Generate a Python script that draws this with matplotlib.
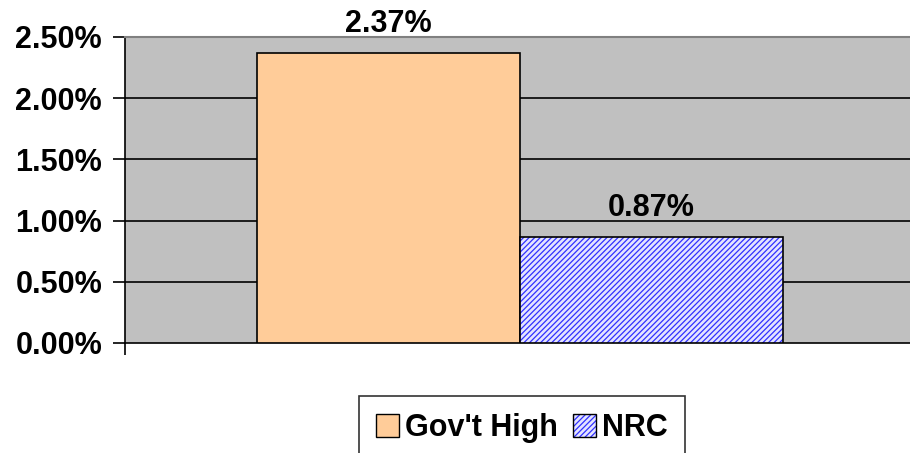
import matplotlib
matplotlib.use('Agg')
from matplotlib import pyplot as plt
from matplotlib.patches import Patch
from matplotlib.legend_handler import HandlerTuple
from matplotlib.ticker import FuncFormatter

series = ["Gov't High", "NRC"]
values = [2.37, 0.87]          # percent
yticks = [0.0, 0.5, 1.0, 1.5, 2.0, 2.5]

plt.rcParams['font.family'] = ['Liberation Sans', 'DejaVu Sans']
plt.rcParams['font.weight'] = 'bold'
plt.rcParams['hatch.linewidth'] = 0.9

fig = plt.figure(figsize=(9.1, 4.53), dpi=100)
ax = fig.add_axes([125 / 910, 1 - 343 / 453, 1 - 125 / 910, (343 - 37) / 453])
ax.set_facecolor('#C0C0C0')

width = 0.335
xpos = [0.003 - width / 2, 0.003 + width / 2]

# grid
for y in yticks[1:-1]:
    ax.axhline(y, color='black', lw=1.2, zorder=1)

# bar 1: plain peach
ax.bar(xpos[0], values[0], width=width, color='#FFCC99',
       edgecolor='black', lw=1.2, zorder=3)
# bar 2: blue hatch, outline drawn separately
ax.bar(xpos[1], values[1], width=width, color='#E4E4FF',
       edgecolor='#3030FF', hatch='//////', lw=0, zorder=3)
ax.bar(xpos[1], values[1], width=width, fill=False,
       edgecolor='black', lw=1.2, zorder=4)

for x, v in zip(xpos, values):
    ax.annotate(f'{v:.2f}%', (x, v), xytext=(0, 10), textcoords='offset points',
                ha='center', va='bottom', fontsize=22, fontweight='bold')

ax.set_xlim(-0.5, 0.5)
ax.set_ylim(0, 2.5)
ax.set_yticks(yticks)
ax.yaxis.set_major_formatter(FuncFormatter(lambda v, p: f'{v:.2f}%'))
ax.set_xticks([-0.5])
ax.set_xticklabels([])
ax.tick_params(axis='both', direction='out', length=8.5, width=1.2,
               color='black', labelsize=22, pad=8)

ax.spines['left'].set_color('black')
ax.spines['left'].set_linewidth(1.2)
ax.spines['bottom'].set_color('black')
ax.spines['bottom'].set_linewidth(1.2)
ax.spines['top'].set_color('#808080')
ax.spines['top'].set_linewidth(1.5)
ax.spines['right'].set_visible(False)

h_gov = Patch(facecolor='#FFCC99', edgecolor='black', lw=1)
h_nrc = (Patch(facecolor='#E4E4FF', edgecolor='#3030FF', hatch='//////', lw=0),
         Patch(fill=False, edgecolor='black', lw=1))
leg = fig.legend([h_gov, h_nrc], series, loc='center',
                 bbox_to_anchor=(522 / 910, 1 - 428 / 453),
                 handler_map={tuple: HandlerTuple(ndivide=1, pad=0)},
                 ncol=2, frameon=True, fancybox=False, shadow=False,
                 prop={'size': 22, 'weight': 'bold'},
                 handlelength=0.75, handleheight=0.75, handletextpad=0.2,
                 columnspacing=0.5, borderpad=0.55)
leg.get_frame().set_edgecolor('black')
leg.get_frame().set_linewidth(1.2)

fig.savefig('out.png', dpi=100)
